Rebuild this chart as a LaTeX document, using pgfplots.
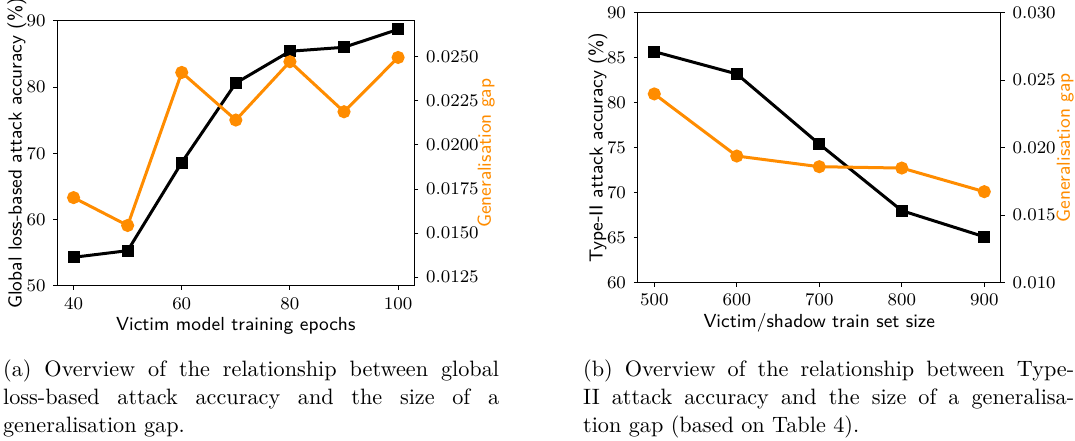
\documentclass[border=0pt]{standalone}
\usepackage{pgfplots}
\pgfplotsset{compat=1.18}
\definecolor{dorange}{HTML}{FF8C00}
\pgfplotsset{
  base/.style={
    scale only axis, anchor=south west,
    tick label style={font=\fontsize{8.3}{10}\selectfont},
    label style={font=\sffamily\fontsize{8.5}{10}\selectfont},
    tick align=outside, major tick length=1.8pt,
    every tick/.style={black, line width=0.4pt},
    axis line style={line width=0.5pt},
    scaled y ticks=false, scaled x ticks=false, clip=false,
  },
  blk/.style={black, line width=1.35pt, mark=square*, mark size=2pt, mark options={solid}},
  org/.style={dorange, line width=1.35pt, mark=*, mark size=2.25pt, mark options={solid}},
}
\begin{document}
\begin{tikzpicture}
\useasboundingbox (0,0) rectangle (483.75pt,198pt);
% ---------- panel (a)
\begin{axis}[base, at={(25.8pt,69.4pt)}, width=160.65pt, height=119.25pt,
  xmin=37, xmax=103, ymin=50, ymax=90,
  xtick={40,60,80,100}, ytick={50,60,70,80,90},
  xtick pos=left, ytick pos=left,
  xlabel={Victim model training epochs},
  xlabel style={at={(axis description cs:0.5,-0.15)}, anchor=center},
  ylabel={Global loss-based attack accuracy (\%)},
  ylabel style={at={(axis description cs:-0.113,0.5)}, anchor=center}]
\addplot[blk] coordinates {(40,54.3) (50,55.3) (60,68.6) (70,80.6) (80,85.4) (90,86.0) (100,88.7)};
\end{axis}
\begin{axis}[base, at={(25.8pt,69.4pt)}, width=160.65pt, height=119.25pt,
  xmin=37, xmax=103, ymin=0.01201, ymax=0.02704,
  axis x line=none, axis y line*=right, ytick pos=right,
  ytick={0.0125,0.0150,0.0175,0.0200,0.0225,0.0250},
  yticklabel style={/pgf/number format/fixed, /pgf/number format/fixed zerofill, /pgf/number format/precision=4},
  ylabel={Generalisation gap},
  ylabel style={dorange, at={(axis description cs:1.201,0.5)}, anchor=center}]
\addplot[org] coordinates {(40,0.01701) (50,0.01543) (60,0.02411) (70,0.02141) (80,0.02472) (90,0.02188) (100,0.02496)};
\end{axis}
% ---------- panel (b)
\begin{axis}[base, at={(287.0pt,70.8pt)}, width=163.35pt, height=121.5pt,
  xmin=480, xmax=920, ymin=60, ymax=90,
  xtick={500,600,700,800,900}, ytick={60,65,70,75,80,85,90},
  xtick pos=left, ytick pos=left,
  xlabel={Victim/shadow train set size},
  xlabel style={at={(axis description cs:0.5,-0.149)}, anchor=center},
  ylabel={Type-II attack accuracy (\%)},
  ylabel style={at={(axis description cs:-0.110,0.5)}, anchor=center}]
\addplot[blk] coordinates {(500,85.67) (600,83.19) (700,75.4) (800,68.0) (900,65.1)};
\end{axis}
\begin{axis}[base, at={(287.0pt,70.8pt)}, width=163.35pt, height=121.5pt,
  xmin=480, xmax=920, ymin=0.010, ymax=0.030,
  axis x line=none, axis y line*=right, ytick pos=right,
  ytick={0.010,0.015,0.020,0.025,0.030},
  yticklabel style={/pgf/number format/fixed, /pgf/number format/fixed zerofill, /pgf/number format/precision=3},
  ylabel={Generalisation gap},
  ylabel style={dorange, at={(axis description cs:1.177,0.5)}, anchor=center}]
\addplot[org] coordinates {(500,0.02398) (600,0.01938) (700,0.01859) (800,0.01849) (900,0.01674)};
\end{axis}
% ---------- captions
\begin{scope}[every node/.style={inner sep=0pt, anchor=base west, font=\fontsize{10}{12}\selectfont}]
\node at (1.2pt,28.6pt) {\makebox[223.2pt][s]{(a) Overview of the relationship between global}};
\node at (1.2pt,15.8pt) {\makebox[223.2pt][s]{loss-based attack accuracy and the size of a}};
\node at (1.2pt,3.5pt) {generalisation gap.};
\node at (262.2pt,28.6pt) {\makebox[221pt][s]{(b) Overview of the relationship between Type-}};
\node at (262.2pt,15.8pt) {\makebox[221pt][s]{II attack accuracy and the size of a generalisa-}};
\node at (262.2pt,3.5pt) {tion gap (based on Table 4).};
\end{scope}
\end{tikzpicture}
\end{document}
